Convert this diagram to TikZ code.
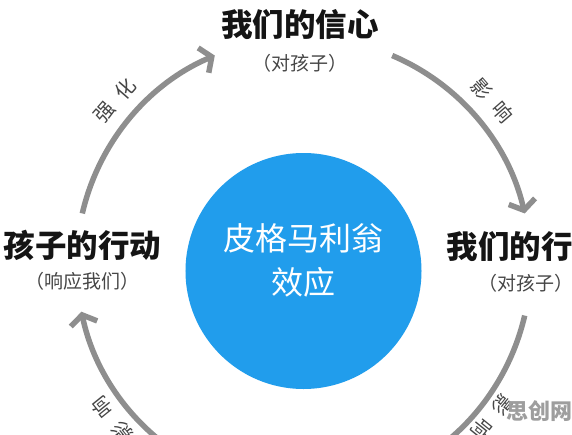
\documentclass[tikz,border=0pt]{standalone}
\usepackage{fontspec}
\newfontfamily\cjk{Noto Sans CJK SC}
\usetikzlibrary{arrows.meta, positioning}
\definecolor{diskblue}{RGB}{33,157,236}
\definecolor{arcgray}{RGB}{142,142,142}
\definecolor{subgray}{RGB}{70,70,70}

\begin{document}
\begin{tikzpicture}[x=1pt, y=1pt,
  every node/.style={font=\cjk, align=center, inner sep=0pt},
  title/.style={font=\cjk\bfseries\fontsize{31.5}{34}\selectfont, text=black!92},
  sub/.style={font=\cjk\fontsize{19}{22}\selectfont, text=subgray},
  core/.style={circle, fill=diskblue, minimum size=236pt},
  coretext/.style={text=white, font=\cjk\fontsize{32}{44}\selectfont},
  arr/.style={draw=arcgray, line width=5.5pt, -{Straight Barb[length=9pt, width=27pt]}},
  arclbl/.style={font=\cjk\fontsize{20}{22}\selectfont, text=subgray},
  wmark/.style={font=\cjk\bfseries\fontsize{22}{24}\selectfont, text=black!38}
]

  % frame: the picture is a crop of a larger cycle
  \useasboundingbox (-303.5,-169.5) rectangle (268.5,264.5);
  \clip (-303.5,-169.5) rectangle (268.5,264.5);
  \fill[white] (-303.5,-169.5) rectangle (268.5,264.5);

  % --- Centre ---
  \node[core] (disk) at (0,-6.5) {};
  \node[coretext] (effect) at (0,4.5) {皮格马利翁\\效应};

  % --- Stations of the cycle ---
  \node[title] (belief) at (-3.5,239.5) {我们的信心};
  \node[sub, below=14pt of belief] (beliefsub) {（对孩子）};

  \node[title] (action) at (222,17.5) {我们的行动};
  \node[sub, below=12pt of action] (actionsub) {（对孩子）};

  \node[title] (kidact) at (-221,19.5) {孩子的行动};
  \node[sub, below=12pt of kidact] (kidactsub) {（响应我们）};

  % --- Arcs ---
  \coordinate (s1) at (167:227);
  \coordinate (s2) at (67:227);
  \coordinate (s3) at (-13:227);
  \coordinate (s4) at (-113:227);
  \draw[arr] (s1) arc[start angle=167, end angle=113, radius=227];
  \draw[arr] (s2) arc[start angle=67, end angle=13, radius=227];
  \draw[arr] (s3) arc[start angle=-13, end angle=-67, radius=227];
  \draw[arr] (s4) arc[start angle=-113, end angle=-168, radius=227];

  % arc labels, tops facing outwards
  \node[arclbl, rotate=49] (reinf) at (139:250) {强\hspace{0.55em}化};
  \node[arclbl, rotate=-49] (infl1) at (41:250) {影\hspace{0.55em}响};
  \node[arclbl, rotate=-129] (infl2) at (-39:243) {影\hspace{0.55em}响};
  \node[arclbl, rotate=129] (infl3) at (-141:246) {影\hspace{0.55em}响};

  \node[wmark] (wm) at (236,-147) {思创网};

\end{tikzpicture}
\end{document}
